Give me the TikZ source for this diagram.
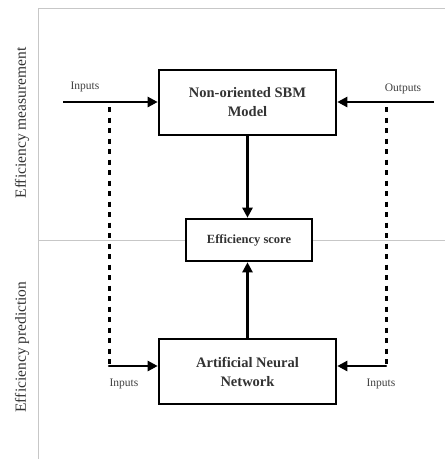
\documentclass[tikz,border=0pt]{standalone}
\usepackage{fontspec}
\setmainfont{Liberation Serif}
\usetikzlibrary{arrows.meta}
\begin{document}
\begin{tikzpicture}[x=1pt,y=-1pt,
  frame/.style={draw=black!22,line width=0.8pt},
  bigbox/.style={draw,line width=2.6pt,fill=white,minimum width=177pt,minimum height=65pt,
    align=center,font=\fontsize{14.5}{19}\selectfont\bfseries,text=black!80},
  scorebox/.style={draw,line width=2.6pt,fill=white,minimum width=126pt,minimum height=42pt,
    font=\fontsize{12.5}{15}\selectfont\bfseries,text=black!80},
  flow/.style={line width=2.4pt,-{Triangle[length=10pt,width=10pt]}},
  dashline/.style={line width=3pt,dash pattern=on 5pt off 5.5pt},
  tag/.style={font=\fontsize{11.5}{14}\selectfont,text=black!75},
  side/.style={rotate=90,font=\fontsize{15.5}{18}\selectfont,text=black!80}]
\useasboundingbox (0,0) rectangle (445,459);
% frame
\draw[frame] (445,8) -- (38,8) -- (38,459);
\draw[frame] (38,240) -- (445,240);
\node[side] (meas) at (22,123) {Efficiency measurement};
\node[side] (pred) at (22,347) {Efficiency prediction};
% boxes
\node[bigbox] (sbm) at (247.5,102.5) {Non-oriented SBM\\Model};
\node[scorebox] (score) at (249,240) {Efficiency score};
\node[bigbox] (ann) at (247.5,371.5) {Artificial Neural\\Network};
% measurement
\coordinate (inS) at (63,102);
\coordinate (outS) at (434,102);
\draw[flow] (inS) -- (sbm.west |- inS);
\draw[flow] (outS) -- (sbm.east |- outS);
\node[tag] (inTop) at (85,87) {Inputs};
\node[tag] (outTop) at (403,89) {Outputs};
\draw[flow] (sbm.south) -- (score.north -| sbm.south);
% prediction
\coordinate (dL) at (109,107);
\coordinate (cL) at (109,366);
\coordinate (dR) at (386,107);
\coordinate (cR) at (386,366);
\draw[dashline] (dL) -- (cL);
\draw[dashline] (dR) -- (cR);
\draw[flow,line cap=round] (cL) -- (ann.west |- cL);
\draw[flow,line cap=round] (cR) -- (ann.east |- cR);
\node[tag] (inL) at (124,384) {Inputs};
\node[tag] (inR) at (381,384) {Inputs};
\draw[flow] (ann.north) -- (score.south -| ann.north);
\end{tikzpicture}
\end{document}
